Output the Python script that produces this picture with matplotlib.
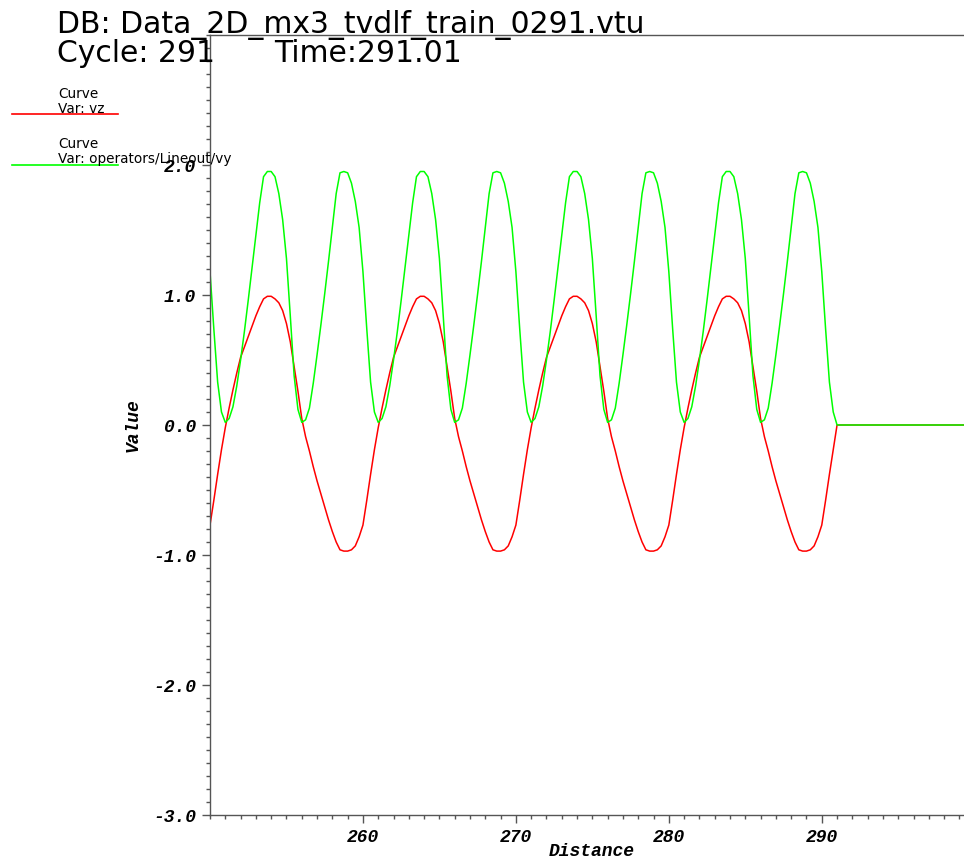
"""Lineout of vz and vy vs distance, VisIt-style curve plot."""

import matplotlib
matplotlib.use("Agg")
import matplotlib.pyplot as plt
import matplotlib.ticker as mticker
import numpy as np

# Lineout samples: 250.0 .. 291.0 every 0.25, then flat to the end.
DIST_START = 250.0
DIST_STOP = 291.0
DIST_END = 299.3

VZ = [
    -0.77, -0.58, -0.38, -0.19, -0.02, 0.13, 0.27, 0.40, 0.52, 0.60,
    0.68, 0.76, 0.84, 0.91, 0.97, 0.99, 0.99, 0.97, 0.94, 0.88,
    0.78, 0.64, 0.45, 0.26, 0.05, -0.09, -0.20, -0.32, -0.43, -0.53,
    -0.63, -0.73, -0.82, -0.90, -0.96, -0.97, -0.97, -0.96, -0.93, -0.86,
    -0.77, -0.58, -0.38, -0.19, -0.02, 0.13, 0.27, 0.40, 0.52, 0.60,
    0.68, 0.76, 0.84, 0.91, 0.97, 0.99, 0.99, 0.97, 0.94, 0.88,
    0.78, 0.64, 0.45, 0.26, 0.05, -0.09, -0.20, -0.32, -0.43, -0.53,
    -0.63, -0.73, -0.82, -0.90, -0.96, -0.97, -0.97, -0.96, -0.93, -0.86,
    -0.77, -0.58, -0.38, -0.19, -0.02, 0.13, 0.27, 0.40, 0.52, 0.60,
    0.68, 0.76, 0.84, 0.91, 0.97, 0.99, 0.99, 0.97, 0.94, 0.88,
    0.78, 0.64, 0.45, 0.26, 0.05, -0.09, -0.20, -0.32, -0.43, -0.53,
    -0.63, -0.73, -0.82, -0.90, -0.96, -0.97, -0.97, -0.96, -0.93, -0.86,
    -0.77, -0.58, -0.38, -0.19, -0.02, 0.13, 0.27, 0.40, 0.52, 0.60,
    0.68, 0.76, 0.84, 0.91, 0.97, 0.99, 0.99, 0.97, 0.94, 0.88,
    0.78, 0.64, 0.45, 0.26, 0.05, -0.09, -0.20, -0.32, -0.43, -0.53,
    -0.63, -0.73, -0.82, -0.90, -0.96, -0.97, -0.97, -0.96, -0.93, -0.86,
    -0.77, -0.58, -0.38, -0.19, 0.0,
]

VY = [
    1.18, 0.74, 0.33, 0.10, 0.02, 0.05, 0.14, 0.30, 0.50, 0.72,
    0.96, 1.21, 1.46, 1.71, 1.91, 1.95, 1.95, 1.91, 1.78, 1.58,
    1.28, 0.84, 0.38, 0.12, 0.02, 0.04, 0.13, 0.32, 0.54, 0.77,
    1.01, 1.26, 1.52, 1.78, 1.94, 1.95, 1.94, 1.86, 1.72, 1.52,
    1.18, 0.74, 0.33, 0.10, 0.02, 0.05, 0.14, 0.30, 0.50, 0.72,
    0.96, 1.21, 1.46, 1.71, 1.91, 1.95, 1.95, 1.91, 1.78, 1.58,
    1.28, 0.84, 0.38, 0.12, 0.02, 0.04, 0.13, 0.32, 0.54, 0.77,
    1.01, 1.26, 1.52, 1.78, 1.94, 1.95, 1.94, 1.86, 1.72, 1.52,
    1.18, 0.74, 0.33, 0.10, 0.02, 0.05, 0.14, 0.30, 0.50, 0.72,
    0.96, 1.21, 1.46, 1.71, 1.91, 1.95, 1.95, 1.91, 1.78, 1.58,
    1.28, 0.84, 0.38, 0.12, 0.02, 0.04, 0.13, 0.32, 0.54, 0.77,
    1.01, 1.26, 1.52, 1.78, 1.94, 1.95, 1.94, 1.86, 1.72, 1.52,
    1.18, 0.74, 0.33, 0.10, 0.02, 0.05, 0.14, 0.30, 0.50, 0.72,
    0.96, 1.21, 1.46, 1.71, 1.91, 1.95, 1.95, 1.91, 1.78, 1.58,
    1.28, 0.84, 0.38, 0.12, 0.02, 0.04, 0.13, 0.32, 0.54, 0.77,
    1.01, 1.26, 1.52, 1.78, 1.94, 1.95, 1.94, 1.86, 1.72, 1.52,
    1.18, 0.74, 0.33, 0.10, 0.0,
]
TAIL_VALUE = 0.0

X_TICKS = [260, 270, 280, 290]
Y_TICKS = [-3.0, -2.0, -1.0, 0.0, 1.0, 2.0]

TITLE_DB = "DB: Data_2D_mx3_tvdlf_train_0291.vtu"
TITLE_CYCLE = "Cycle: 291"
TITLE_TIME = "Time:291.01"

RED = "#ff0000"
GREEN = "#00ff00"
AXIS_GREY = "#555555"
TICK_FONT = dict(family="Liberation Mono", weight="bold", style="italic")

W, H = 964, 861


def px(x, y):
    """Pixel position (from top-left) to figure fraction."""
    return x / W, 1 - y / H


dist = np.linspace(DIST_START, DIST_STOP, len(VZ))
dist = np.append(dist, DIST_END)
vz = np.append(VZ, TAIL_VALUE)
vy = np.append(VY, TAIL_VALUE)

fig = plt.figure(figsize=(W / 100, H / 100), dpi=100)
ax = fig.add_axes([210 / W, (H - 815) / H, (W - 210) / W, 780 / H])

ax.plot(dist, vz, color=RED, linewidth=1.1)
ax.plot(dist, vy, color=GREEN, linewidth=1.1)

ax.set_xlim(DIST_START, DIST_END)
ax.set_ylim(-3.0, 3.0)

ax.spines["right"].set_visible(False)
for side in ("left", "bottom", "top"):
    ax.spines[side].set_color(AXIS_GREY)
    ax.spines[side].set_linewidth(1.0)

ax.set_xticks(X_TICKS)
ax.set_yticks(Y_TICKS)
ax.xaxis.set_minor_locator(mticker.MultipleLocator(1))
ax.yaxis.set_minor_locator(mticker.MultipleLocator(0.1))
ax.set_xticklabels([f"{v:d}" for v in X_TICKS], fontsize=13, **TICK_FONT)
ax.set_yticklabels([f"{v:.1f}" for v in Y_TICKS], fontsize=13, **TICK_FONT)
ax.tick_params(which="major", length=6, width=1.0, color=AXIS_GREY,
               direction="out", pad=4)
ax.tick_params(which="minor", length=3, width=1.0, color=AXIS_GREY,
               direction="out")
ax.tick_params(axis="x", which="both", top=False)

fig.text(*px(592, 852), "Distance", ha="center", va="center",
         fontsize=13, **TICK_FONT)
fig.text(*px(133, 425), "Value", ha="center", va="center", rotation=90,
         fontsize=13, **TICK_FONT)

# Header text
fig.text(*px(57, 33), TITLE_DB, ha="left", va="baseline",
         fontsize=21.5, family="DejaVu Sans")
fig.text(*px(57, 62), TITLE_CYCLE, ha="left", va="baseline",
         fontsize=21.5, family="DejaVu Sans")
fig.text(*px(274, 62), TITLE_TIME, ha="left", va="baseline",
         fontsize=21.5, family="DejaVu Sans")

# Legend block
legend_rows = [
    ("Curve", "Var: vz", RED, 98, 113, 114),
    ("Curve", "Var: operators/Lineout/vy", GREEN, 148, 163, 165),
]
for head, var, color, y1, y2, yline in legend_rows:
    fig.text(*px(58, y1), head, ha="left", va="baseline", fontsize=9.8,
             family="DejaVu Sans")
    fig.text(*px(58, y2), var, ha="left", va="baseline", fontsize=9.8,
             family="DejaVu Sans")
    fig.add_artist(plt.Line2D([12 / W, 118 / W], [1 - yline / H] * 2,
                              color=color, linewidth=1.2,
                              transform=fig.transFigure))

fig.savefig("out.png", dpi=100, facecolor="white")
